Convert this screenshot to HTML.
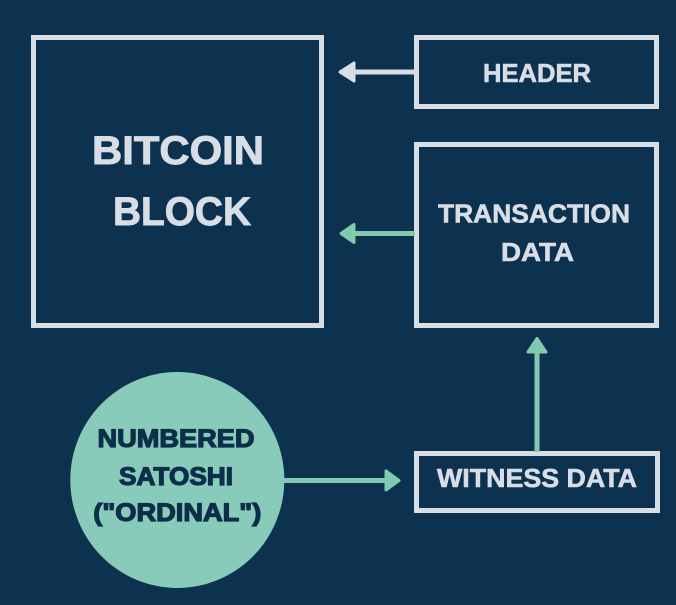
<!DOCTYPE html>
<html>
<head>
<meta charset="utf-8">
<style>
  html, body { margin: 0; padding: 0; background: #0d3250; }
  body { width: 676px; height: 605px; overflow: hidden; }
  svg { display: block; }
  text { font-family: "Liberation Sans", Arial, sans-serif; font-weight: bold; }
</style>
</head>
<body>
<svg width="676" height="605" viewBox="0 0 676 605" xmlns="http://www.w3.org/2000/svg">
  <rect x="0" y="0" width="676" height="605" fill="#0d3250"/>

  <!-- Bitcoin block -->
  <rect x="33.5" y="37.5" width="288" height="288" fill="none" stroke="#d9dee6" stroke-width="5"/>
  <text x="178" y="164" font-size="40" fill="#d9dee6" stroke="#d9dee6" stroke-width="0.9" text-anchor="middle" textLength="172" lengthAdjust="spacingAndGlyphs">BITCOIN</text>
  <text x="182" y="225" font-size="40" fill="#d9dee6" stroke="#d9dee6" stroke-width="0.9" text-anchor="middle" textLength="138" lengthAdjust="spacingAndGlyphs">BLOCK</text>

  <!-- Header -->
  <rect x="416.5" y="37.5" width="240" height="69" fill="none" stroke="#d9dee6" stroke-width="5"/>
  <text x="537" y="82" font-size="26" fill="#d9dee6" stroke="#d9dee6" stroke-width="0.6" text-anchor="middle" textLength="108" lengthAdjust="spacingAndGlyphs">HEADER</text>

  <!-- Transaction data -->
  <rect x="416.5" y="144.5" width="240" height="181" fill="none" stroke="#d9dee6" stroke-width="5"/>
  <text x="534" y="222.5" font-size="26" fill="#d9dee6" stroke="#d9dee6" stroke-width="0.6" text-anchor="middle" textLength="192" lengthAdjust="spacingAndGlyphs">TRANSACTION</text>
  <text x="537.5" y="261" font-size="26" fill="#d9dee6" stroke="#d9dee6" stroke-width="0.6" text-anchor="middle" textLength="73" lengthAdjust="spacingAndGlyphs">DATA</text>

  <!-- Witness data -->
  <rect x="416.5" y="453.5" width="241" height="57" fill="none" stroke="#d9dee6" stroke-width="5"/>
  <text x="537" y="487" font-size="26" fill="#d9dee6" stroke="#d9dee6" stroke-width="0.6" text-anchor="middle" textLength="200" lengthAdjust="spacingAndGlyphs">WITNESS DATA</text>

  <!-- Header arrow -->
  <line x1="352" y1="72" x2="415" y2="72" stroke="#d9dee6" stroke-width="5"/>
  <polygon points="340,72 354,63 354,81" fill="#d9dee6" stroke="#d9dee6" stroke-width="3" stroke-linejoin="round"/>

  <!-- Transaction arrow -->
  <line x1="352" y1="233.5" x2="415" y2="233.5" stroke="#80cbb0" stroke-width="5"/>
  <polygon points="341,233.5 354,224.5 354,242.5" fill="#80cbb0" stroke="#80cbb0" stroke-width="3" stroke-linejoin="round"/>

  <!-- Witness -> Transaction arrow -->
  <line x1="537" y1="351" x2="537" y2="452" stroke="#80cbb0" stroke-width="5"/>
  <polygon points="537,338.5 528,352 546,352" fill="#80cbb0" stroke="#80cbb0" stroke-width="3" stroke-linejoin="round"/>

  <!-- Circle -> Witness arrow -->
  <line x1="282" y1="480.5" x2="388" y2="480.5" stroke="#80cbb0" stroke-width="5"/>
  <polygon points="399,480.5 386,471 386,490" fill="#80cbb0" stroke="#80cbb0" stroke-width="3" stroke-linejoin="round"/>

  <!-- Circle -->
  <ellipse cx="177.3" cy="480" rx="107" ry="108" fill="#88cbbb"/>
  <text x="176" y="447" font-size="25" fill="#0c2e48" stroke="#0c2e48" stroke-width="1.2" text-anchor="middle" textLength="157" lengthAdjust="spacingAndGlyphs">NUMBERED</text>
  <text x="176" y="485" font-size="25" fill="#0c2e48" stroke="#0c2e48" stroke-width="1.2" text-anchor="middle" textLength="114" lengthAdjust="spacingAndGlyphs">SATOSHI</text>
  <text x="177.3" y="521" font-size="25" fill="#0c2e48" stroke="#0c2e48" stroke-width="1.2" text-anchor="middle" textLength="168" lengthAdjust="spacingAndGlyphs">("ORDINAL")</text>
</svg>
</body>
</html>
